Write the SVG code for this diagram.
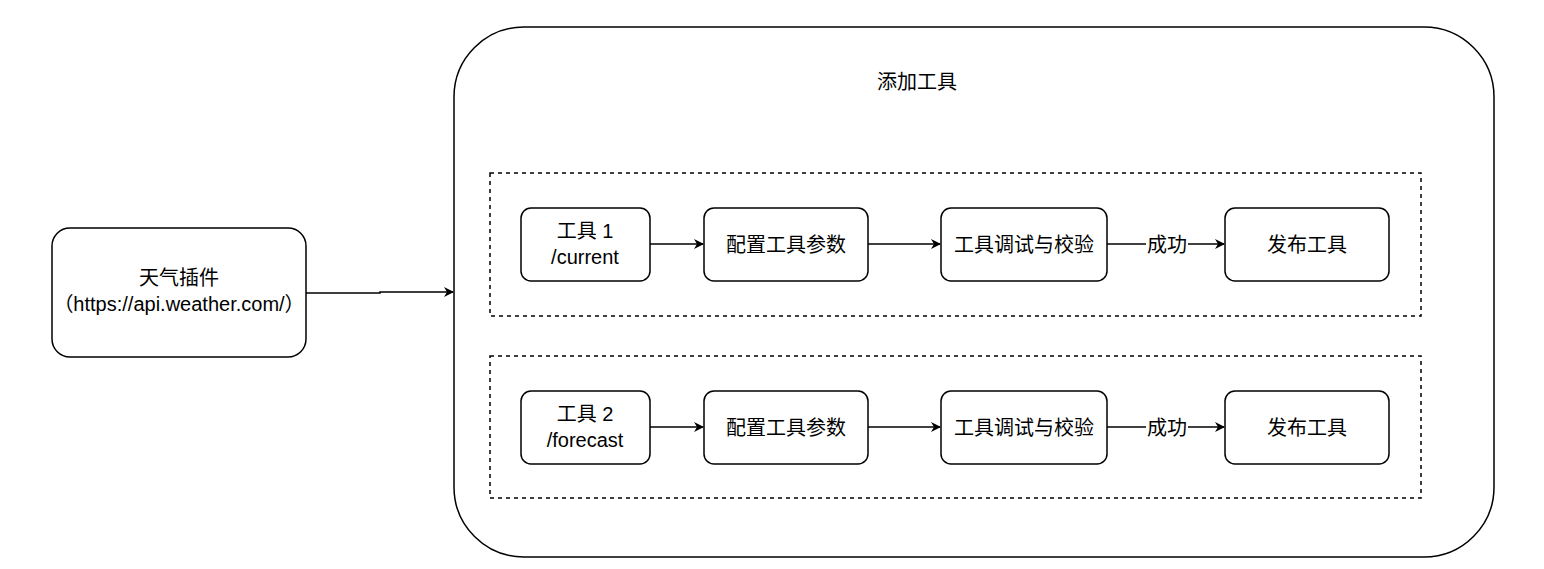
<svg xmlns="http://www.w3.org/2000/svg" width="1544" height="569" viewBox="0 0 1544 569">
<style>
.n{fill:#fff;stroke:#000;stroke-width:1.5}
.d{fill:none;stroke:#000;stroke-width:1.5;stroke-dasharray:4 4}
.e{fill:none;stroke:#000;stroke-width:1.5;marker-end:url(#a)}
text{font-family:"Liberation Sans","Noto Sans CJK SC",sans-serif;font-size:20px;text-anchor:middle;fill:#000}
</style>
<defs><marker id="a" markerWidth="10" markerHeight="10" refX="9" refY="5" orient="auto" markerUnits="userSpaceOnUse"><path d="M0,0 L10,5 L0,10 L3,5 Z" fill="#000"/></marker></defs>
<rect width="1544" height="569" fill="#fff"/>
<g id="container"><rect class="n" x="454" y="27" width="1040" height="530" rx="70"/><text x="917" y="89">添加工具</text></g>
<g id="group1"><rect class="d" x="490" y="173" width="931" height="143"/></g>
<g id="group2"><rect class="d" x="490" y="356" width="931" height="142"/></g>
<g id="plugin"><rect class="n" x="52" y="228" width="254" height="129" rx="18"/><text x="179" y="285">天气插件</text><text x="179" y="311">（https://api.weather.com/）</text></g>
<g id="t1"><rect class="n" x="521" y="208" width="129" height="73" rx="10"/><text x="585" y="238">工具 1</text><text x="585" y="264">/current</text></g>
<g id="c1"><rect class="n" x="704" y="208" width="164" height="73" rx="10"/><text x="786" y="252">配置工具参数</text></g>
<g id="v1"><rect class="n" x="941" y="208" width="166" height="73" rx="10"/><text x="1024" y="252">工具调试与校验</text></g>
<g id="p1"><rect class="n" x="1225" y="208" width="164" height="73" rx="10"/><text x="1307" y="252">发布工具</text></g>
<g id="t2"><rect class="n" x="521" y="391" width="129" height="73" rx="10"/><text x="585" y="421">工具 2</text><text x="585" y="447">/forecast</text></g>
<g id="c2"><rect class="n" x="704" y="391" width="164" height="73" rx="10"/><text x="786" y="435">配置工具参数</text></g>
<g id="v2"><rect class="n" x="941" y="391" width="166" height="73" rx="10"/><text x="1024" y="435">工具调试与校验</text></g>
<g id="p2"><rect class="n" x="1225" y="391" width="164" height="73" rx="10"/><text x="1307" y="435">发布工具</text></g>
<g id="edges">
<path class="e" d="M306,293 L380,293 L380,292 L453,292"/>
<path class="e" d="M650,244 L703,244"/>
<path class="e" d="M868,244 L940,244"/>
<path class="e" d="M1107,244 L1224,244"/>
<path class="e" d="M650,427 L703,427"/>
<path class="e" d="M868,427 L940,427"/>
<path class="e" d="M1107,427 L1224,427"/>
<rect x="1146" y="232" width="42" height="24" fill="#fff"/><text x="1167" y="252">成功</text>
<rect x="1146" y="415" width="42" height="24" fill="#fff"/><text x="1167" y="435">成功</text>
</g>
</svg>
